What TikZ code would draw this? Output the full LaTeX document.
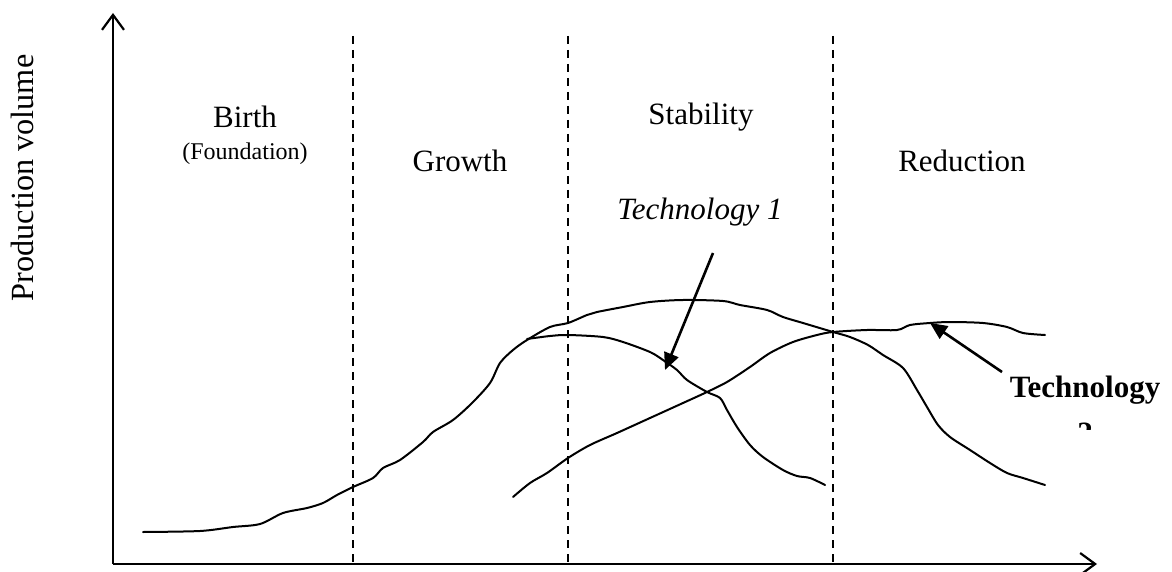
\documentclass[tikz,border=0pt]{standalone}
\usepackage{fontspec}
\setmainfont{Liberation Serif}
\usetikzlibrary{arrows.meta}
\begin{document}
\begin{tikzpicture}[x=1pt,y=-1pt,
  axis/.style={line width=2.2pt, -{Straight Barb[length=15pt,width=22pt,line width=2.2pt]}},
  phase/.style={line width=1.6pt, dash pattern=on 8pt off 6pt},
  curve/.style={line width=2pt, line join=round, line cap=round},
  ptr/.style={line width=2.6pt, -{Triangle[length=17pt,width=15pt]}},
  lbl/.style={font=\fontsize{31}{37}\selectfont, inner sep=0pt, anchor=base},
  small/.style={font=\fontsize{24}{29}\selectfont, inner sep=0pt, anchor=base},
]
\useasboundingbox (0,0) rectangle (1172,572);

% axes
\coordinate (O) at (113,564);
\coordinate (ytop) at (113,13);
\coordinate (xend) at (1097,564);
\draw[axis] (O) -- (ytop);
\draw[axis] (O) -- (xend);

% phase separators
\foreach \n/\x in {a/353,b/568,c/833}{
  \coordinate (d\n top) at (\x,36);
  \coordinate (d\n bot) at (\x,564);
  \draw[phase] (d\n top) -- (d\n bot);
}

% labels
\node[lbl, rotate=90, font=\fontsize{32.3}{38}\selectfont] (ylab) at (33,178) {Production volume};
\node[lbl] (birth) at (245,128) {Birth};
\node[small] (found) at (245,160) {(Foundation)};
\node[lbl] (growth) at (460,172) {Growth};
\node[lbl] (stab) at (701,125) {Stability};
\node[lbl] (red) at (962,172) {Reduction};
\node[lbl, font=\fontsize{31}{37}\selectfont\itshape] (tech1) at (700,219) {Technology 1};
\node[lbl, font=\fontsize{31}{37}\selectfont\bfseries] (tech2) at (1085,397) {Technology};
\begin{scope}
  \clip (950,405) rectangle (1172,429);
  \node[lbl, font=\fontsize{31}{37}\selectfont\bfseries] (tech2b) at (1085,443) {2};
\end{scope}

% total curve
\draw[curve] plot[smooth, tension=0.5] coordinates {
 (143,532) (200,531) (233,527) (260,524) (283,513) (307,508) (323,503)
 (337,495) (353,487) (373,478) (383,468) (400,460) (423,442) (433,432)
 (453,420) (472,403) (490,383) (500,363) (513,350) (527,340) (550,327)
 (568,323) (587,315) (597,312) (623,307) (650,302) (683,300) (723,301)
 (740,305) (767,310) (783,317) (803,323) (833,332) (850,337) (868,345)
 (883,355) (903,368) (917,390) (927,407) (938,425) (950,437) (970,450)
 (990,463) (1007,473) (1023,478) (1045,485)};

% technology 1 curve
\draw[curve] plot[smooth, tension=0.5] coordinates {
 (527,339) (550,336) (568,335) (603,337) (623,342) (650,352) (663,360)
 (677,370) (687,380) (707,392) (720,398) (727,410) (737,427) (750,445)
 (763,457) (783,470) (797,476) (810,478) (825,485)};

% technology 2 curve
\draw[curve] plot[smooth, tension=0.5] coordinates {
 (513,497) (530,483) (547,473) (568,458) (590,445) (617,433) (650,418)
 (683,403) (707,392) (727,382) (750,367) (770,353) (793,342) (817,335)
 (833,332) (867,330) (897,330) (910,325) (930,323) (950,322) (983,323)
 (1007,327) (1023,333) (1045,335)};

% pointers
\coordinate (t1tail) at (713,253);
\coordinate (t1tip) at (665,370);
\draw[ptr] (t1tail) -- (t1tip);
\coordinate (t2tail) at (1002,372);
\coordinate (t2tip) at (930,323);
\draw[ptr] (t2tail) -- (t2tip);
\end{tikzpicture}
\end{document}
